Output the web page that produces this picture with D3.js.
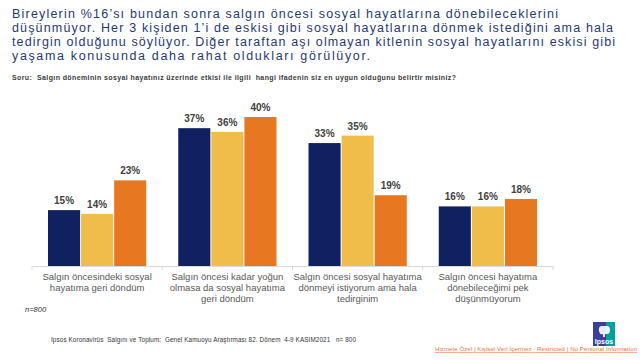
<!DOCTYPE html>
<html>
<head>
<meta charset="utf-8">
<script src="https://cdn.jsdelivr.net/npm/d3@7"></script>
<style>
  html, body { margin: 0; padding: 0; background: #fff; }
  svg { display: block; font-family: "Liberation Sans", Arial, sans-serif; }
</style>
</head>
<body>
<div id="chart"></div>
<script>
// chart data
const categories = [
    ["Salgın öncesindeki sosyal", "hayatıma geri döndüm"],
    ["Salgın öncesi kadar yoğun", "olmasa da sosyal hayatıma", "geri döndüm"],
    ["Salgın öncesi sosyal hayatıma", "dönmeyi istiyorum ama hala", "tedirginim"],
    ["Salgın öncesi hayatıma", "dönebileceğimi pek", "düşünmüyorum"]
];
const seriesKeys = ["s1", "s2", "s3"];
const s1Values = [15, 37, 33, 16];
const s2Values = [14, 36, 35, 16];
const s3Values = [23, 40, 19, 18];

const titleLines = [
    "Bireylerin %16’sı bundan sonra salgın öncesi sosyal hayatlarına dönebileceklerini",
    "düşünmüyor. Her 3 kişiden 1’i de eskisi gibi sosyal hayatlarına dönmek istediğini ama hala",
    "tedirgin olduğunu söylüyor. Diğer taraftan aşı olmayan kitlenin sosyal hayatlarını eskisi gibi",
    "yaşama konusunda daha rahat oldukları görülüyor."
];
const questionText = "Soru:  Salgın döneminin sosyal hayatınız üzerinde etkisi ile ilgili  hangi ifadenin siz en uygun olduğunu belirtir misiniz?";
const sampleNote = "n=800";
const sourceText = "Ipsos Koronavirüs  Salgını ve Toplum:  Genel Kamuoyu Araştırması 82. Dönem  4-9 KASIM2021   n= 800";
const classText = "Hizmete Özel | Kişisel Veri İçermez - Restricted | No Personal Information";

const colors = {s1: "#0f2160", s2: "#f0bd4b", s3: "#e87722"};

const data = categories.map(function(c, i) {
    return {cat: i, s1: s1Values[i], s2: s2Values[i], s3: s3Values[i]};
});

const width = 640, height = 360;
const svg = d3.select("#chart").append("svg")
    .attr("width", width)
    .attr("height", height);

// Title
const titleWidths = [546, 601, 603, 358];
svg.append("g")
    .selectAll("text")
    .data(titleLines)
    .enter().append("text")
    .attr("x", 12)
    .attr("y", function(d, i) { return 17.5 + i * 14; })
    .attr("font-size", 12.5)
    .attr("fill", "#1f3a6e")
    .attr("textLength", function(d, i) { return titleWidths[i]; })
    .attr("lengthAdjust", "spacing")
    .text(function(d) { return d; });

// Question
svg.append("text")
    .attr("x", 12)
    .attr("y", 79.5)
    .attr("font-size", 7)
    .attr("font-weight", "bold")
    .attr("fill", "#3a3a3a")
    .attr("textLength", 444)
    .attr("lengthAdjust", "spacing")
    .attr("xml:space", "preserve")
    .text(questionText);

// Scales
const x0 = d3.scaleBand()
    .domain(d3.range(categories.length))
    .range([32, 553]);

const x1 = d3.scaleBand()
    .domain(seriesKeys)
    .range([16, x0.bandwidth() - 16])
    .paddingInner(0.03);

const y = d3.scaleLinear()
    .domain([0, 40])
    .range([266, 117]);

// Axis line
svg.append("g")
    .attr("transform", "translate(0," + y(0) + ")")
    .call(d3.axisBottom(x0).tickSize(0).tickFormat(""))
    .call(function(g) {
        g.select(".domain").attr("stroke", "#d9d9d9");
    });

// Boundary ticks
svg.append("g")
    .selectAll("line")
    .data(d3.range(categories.length + 1))
    .enter().append("line")
    .attr("x1", function(d) { return x0.range()[0] + d * x0.step(); })
    .attr("x2", function(d) { return x0.range()[0] + d * x0.step(); })
    .attr("y1", y(0))
    .attr("y2", y(0) + 4)
    .attr("stroke", "#d9d9d9");

// Bars
const groups = svg.append("g")
    .selectAll("g")
    .data(data)
    .enter().append("g")
    .attr("transform", function(d) { return "translate(" + x0(d.cat) + ",0)"; });

groups.selectAll("rect")
    .data(function(d) { return seriesKeys.map(function(k) { return {key: k, value: d[k]}; }); })
    .enter().append("rect")
    .attr("x", function(d) { return x1(d.key); })
    .attr("y", function(d) { return y(d.value); })
    .attr("width", x1.bandwidth())
    .attr("height", function(d) { return y(0) - y(d.value); })
    .attr("fill", function(d) { return colors[d.key]; });

groups.selectAll("text")
    .data(function(d) { return seriesKeys.map(function(k) { return {key: k, value: d[k]}; }); })
    .enter().append("text")
    .attr("x", function(d) { return x1(d.key) + x1.bandwidth() / 2; })
    .attr("y", function(d) { return y(d.value) - 6; })
    .attr("text-anchor", "middle")
    .attr("font-size", 10)
    .attr("font-weight", "bold")
    .attr("fill", "#404040")
    .text(function(d) { return d.value + "%"; });

// Category labels
const catLabels = svg.append("g")
    .selectAll("text")
    .data(categories)
    .enter().append("text")
    .attr("x", function(d, i) { return x0(i) + x0.bandwidth() / 2; })
    .attr("y", 280)
    .attr("text-anchor", "middle")
    .attr("font-size", 9.5)
    .attr("fill", "#595959");

catLabels.selectAll("tspan")
    .data(function(d) { return d; })
    .enter().append("tspan")
    .attr("x", function() { return d3.select(this.parentNode).attr("x"); })
    .attr("dy", function(d, i) { return i === 0 ? 0 : 10.8; })
    .text(function(d) { return d; });

// n note
svg.append("text")
    .attr("x", 25)
    .attr("y", 312)
    .attr("font-size", 7.5)
    .attr("font-style", "italic")
    .attr("fill", "#333")
    .text(sampleNote);

// Source
svg.append("text")
    .attr("x", 51)
    .attr("y", 341.5)
    .attr("font-size", 6.3)
    .attr("fill", "#333")
    .attr("xml:space", "preserve")
    .attr("textLength", 305)
    .attr("lengthAdjust", "spacing")
    .text(sourceText);

// Ipsos logo
const logo = svg.append("g").attr("transform", "translate(593,322)");
logo.append("rect").attr("width", 22).attr("height", 24).attr("fill", "#00a19a");
logo.append("rect").attr("width", 13).attr("height", 24).attr("fill", "#3b3f98");
logo.append("path")
    .attr("d", "M8,4 h6 a3,4 0 0 1 0,8 h-2 v3 h-2 v-3 a3,4 0 0 1 -2,-8 z")
    .attr("fill", "#fff")
    .attr("opacity", 0.9);
logo.append("text")
    .attr("x", 11)
    .attr("y", 22)
    .attr("text-anchor", "middle")
    .attr("font-size", 7)
    .attr("font-weight", "bold")
    .attr("fill", "#fff")
    .text("Ipsos");

// Classification footer
svg.append("text")
    .attr("x", 435)
    .attr("y", 351)
    .attr("font-size", 6)
    .attr("fill", "#e8733a")
    .attr("text-decoration", "underline")
    .attr("textLength", 202)
    .attr("lengthAdjust", "spacing")
    .text(classText);
</script>
</body>
</html>
